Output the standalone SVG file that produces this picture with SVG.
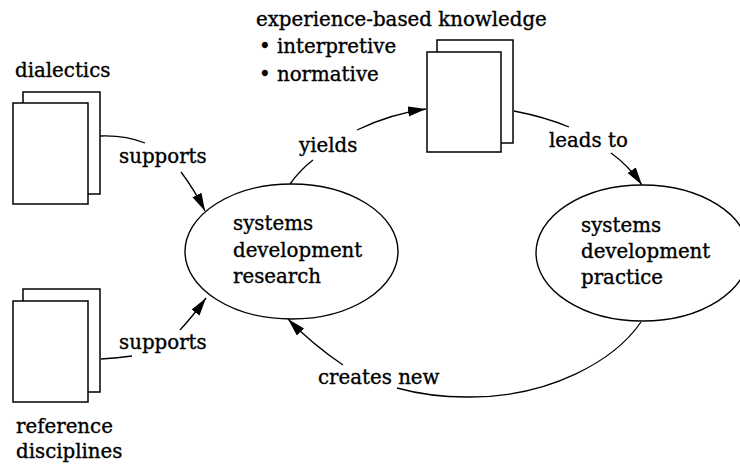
<svg xmlns="http://www.w3.org/2000/svg" width="740" height="466" viewBox="0 0 740 466">
<style>
text{font-family:"DejaVu Serif","Liberation Serif",serif;font-size:19.8px;fill:#000;stroke:#000;stroke-width:0.35}
.doc{fill:#fff;stroke:#000;stroke-width:1.5}
.ell{fill:#fff;stroke:#000;stroke-width:1.4}
.con{fill:none;stroke:#000;stroke-width:1.3}
</style>
<defs>
<marker id="ah" markerUnits="userSpaceOnUse" markerWidth="20" markerHeight="12" refX="18" refY="5" orient="auto">
<path d="M0,0 L18,5 L0,10 z" fill="#000"/>
</marker>
</defs>
<rect width="740" height="466" fill="#fff"/>
<g id="dialectics">
<rect class="doc" x="23" y="92" width="77" height="102"/>
<rect class="doc" x="13" y="103" width="75" height="101"/>
<text x="15" y="77">dialectics</text>
</g>
<g id="reference-disciplines">
<rect class="doc" x="23" y="289" width="77" height="103"/>
<rect class="doc" x="13" y="301" width="75" height="101"/>
<text x="16" y="433">reference</text>
<text x="16" y="458">disciplines</text>
</g>
<g id="knowledge">
<rect class="doc" x="437" y="40" width="76" height="103"/>
<rect class="doc" x="427" y="52" width="74" height="100"/>
<text x="256" y="26">experience-based knowledge</text>
<text x="259" y="53">• interpretive</text>
<text x="259" y="81">• normative</text>
</g>
<g id="research">
<ellipse class="ell" cx="291.5" cy="251.5" rx="106.5" ry="67.5"/>
<text x="233" y="230">systems</text>
<text x="233" y="257">development</text>
<text x="233" y="283">research</text>
</g>
<g id="practice">
<ellipse class="ell" cx="642.5" cy="253" rx="106.5" ry="68"/>
<text x="581" y="232">systems</text>
<text x="581" y="258">development</text>
<text x="581" y="284">practice</text>
</g>
<g id="connectors">
<path class="con" d="M100,136 Q125,135 145,143 M181,172 Q194,189 205,211" marker-end="url(#ah)"/>
<text x="119" y="163">supports</text>
<path class="con" d="M101,359 Q118,358 132,356 M180,330 Q193,316 206,298" marker-end="url(#ah)"/>
<text x="119" y="349">supports</text>
<path class="con" d="M290,184 Q300,170 313,160 M357,130 Q390,114 426,109" marker-end="url(#ah)"/>
<text x="299" y="152">yields</text>
<path class="con" d="M514,111 Q545,117 569,127 M611,153 Q628,165 642,185" marker-end="url(#ah)"/>
<text x="549" y="147">leads to</text>
<path class="con" d="M641,322 C615,360 550,398 467,397 C440,397 415,393 397,388 M343,365 Q312,344 288,319" marker-end="url(#ah)"/>
<text x="318" y="384">creates new</text>
</g>
</svg>
